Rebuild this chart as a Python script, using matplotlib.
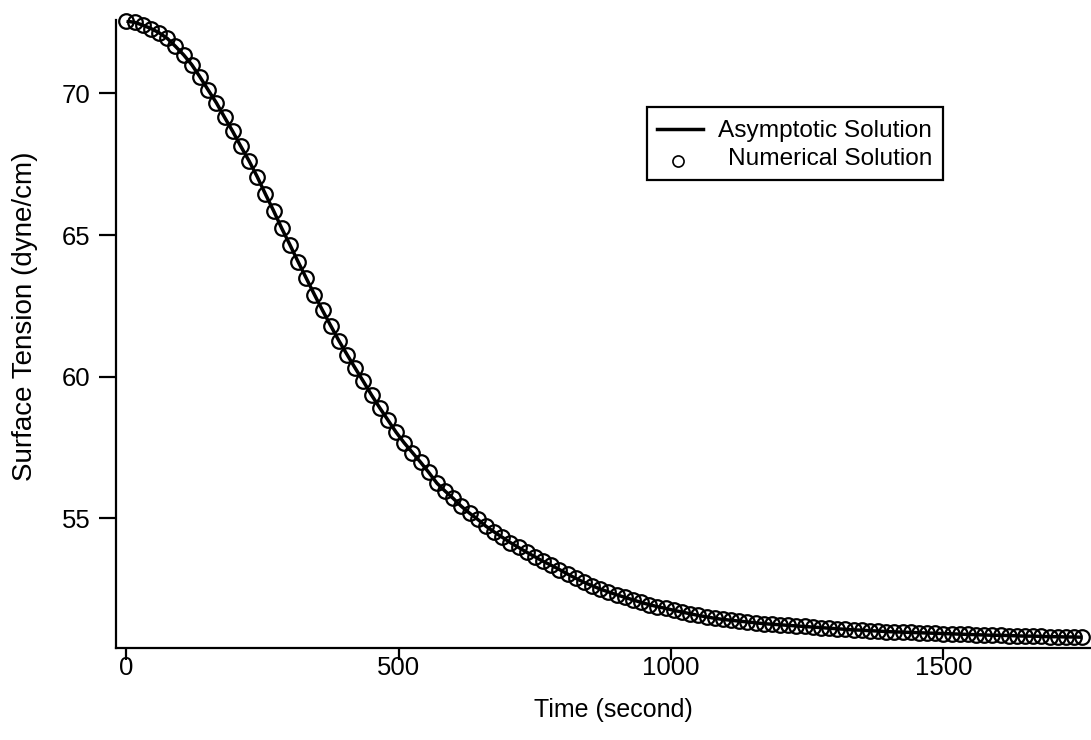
import matplotlib
matplotlib.use("Agg")
import matplotlib.pyplot as plt
from matplotlib.patches import Rectangle
from matplotlib.lines import Line2D

plt.rcParams['font.family'] = ['Liberation Sans', 'DejaVu Sans']

# Sampling times (s)
time_s = [
    0, 15, 30, 45, 60, 75, 90, 105, 120, 135, 150, 165, 180, 195, 210, 225,
    240, 255, 270, 285, 300, 315, 330, 345, 360, 375, 390, 405, 420, 435, 450,
    465, 480, 495, 510, 525, 540, 555, 570, 585, 600, 615, 630, 645, 660, 675,
    690, 705, 720, 735, 750, 765, 780, 795, 810, 825, 840, 855, 870, 885, 900,
    915, 930, 945, 960, 975, 990, 1005, 1020, 1035, 1050, 1065, 1080, 1095,
    1110, 1125, 1140, 1155, 1170, 1185, 1200, 1215, 1230, 1245, 1260, 1275,
    1290, 1305, 1320, 1335, 1350, 1365, 1380, 1395, 1410, 1425, 1440, 1455,
    1470, 1485, 1500, 1515, 1530, 1545, 1560, 1575, 1590, 1605, 1620, 1635,
    1650, 1665, 1680, 1695, 1710, 1725, 1740, 1755,
]

# Surface tension (dyne/cm)
tension = [
    72.55, 72.51, 72.41, 72.29, 72.14, 71.94, 71.66, 71.36, 71.01, 70.58,
    70.12, 69.67, 69.16, 68.66, 68.13, 67.62, 67.06, 66.45, 65.86, 65.24,
    64.66, 64.06, 63.48, 62.90, 62.34, 61.80, 61.27, 60.78, 60.30, 59.83,
    59.35, 58.90, 58.47, 58.04, 57.66, 57.32, 56.98, 56.62, 56.24, 55.96,
    55.70, 55.42, 55.18, 54.96, 54.72, 54.52, 54.33, 54.14, 53.97, 53.80,
    53.64, 53.48, 53.34, 53.19, 53.03, 52.88, 52.74, 52.62, 52.50, 52.40,
    52.30, 52.21, 52.12, 52.03, 51.95, 51.88, 51.82, 51.75, 51.69, 51.63,
    51.57, 51.52, 51.47, 51.43, 51.40, 51.37, 51.34, 51.31, 51.28, 51.26,
    51.24, 51.22, 51.20, 51.18, 51.16, 51.14, 51.12, 51.10, 51.08, 51.06,
    51.05, 51.03, 51.02, 51.00, 50.99, 50.98, 50.97, 50.96, 50.95, 50.94,
    50.93, 50.92, 50.91, 50.90, 50.89, 50.88, 50.87, 50.87, 50.86, 50.85,
    50.84, 50.84, 50.83, 50.82, 50.82, 50.81, 50.81, 50.80,
]

x_ticks = [0, 500, 1000, 1500]
y_ticks = [55, 60, 65, 70]
legend_labels = ["Asymptotic Solution", "Numerical Solution"]

fig = plt.figure(figsize=(10.91, 7.40), dpi=100)
ax = fig.add_axes([0.1063, 0.1243, 0.8937, 0.8486])

# Numerical solution: open circles
ax.plot(time_s, tension, linestyle='none', marker='o', markersize=10.5,
        markerfacecolor='none', markeredgecolor='black', markeredgewidth=1.6,
        clip_on=False, zorder=2)
# Asymptotic solution: solid line
ax.plot(time_s, tension, color='black', linewidth=2.5, zorder=3,
        solid_capstyle='butt')

ax.set_xlim(-19.3, 1771)
ax.set_ylim(50.42, 72.59)

for side in ('top', 'right'):
    ax.spines[side].set_visible(False)
for side in ('left', 'bottom'):
    ax.spines[side].set_linewidth(1.6)

ax.set_xticks(x_ticks)
ax.set_yticks(y_ticks)
ax.tick_params(axis='y', direction='out', length=12.5, width=1.6,
               labelsize=18.5, pad=6)
ax.tick_params(axis='x', direction='out', length=8.6, width=1.6,
               labelsize=18.5, pad=-2.5)

ax.set_xlabel("Time (second)", fontsize=18)
ax.set_ylabel("Surface Tension (dyne/cm)", fontsize=20)
ax.xaxis.set_label_coords(0.5097, -0.0800)
ax.yaxis.set_label_coords(-0.0800, 0.5287)

# Legend box drawn in axes coordinates
ax.add_patch(Rectangle((0.5449, 0.7452), 0.8479 - 0.5449, 0.8610 - 0.7452,
                       transform=ax.transAxes, facecolor='white',
                       edgecolor='black', linewidth=1.6, zorder=5))
ax.add_line(Line2D([0.5549, 0.6021], [0.826, 0.826], transform=ax.transAxes,
                   color='black', linewidth=2.5, zorder=6))
ax.add_line(Line2D([0.5764], [0.776], transform=ax.transAxes, marker='o',
                   markersize=8, markerfacecolor='none',
                   markeredgecolor='black', markeredgewidth=1.2, zorder=6))
ax.text(0.8369, 0.8132, legend_labels[0], transform=ax.transAxes,
        ha='right', va='baseline', fontsize=17.6, zorder=6)
ax.text(0.8369, 0.7691, legend_labels[1], transform=ax.transAxes,
        ha='right', va='baseline', fontsize=17.6, zorder=6)

fig.savefig("out.png", dpi=100)
